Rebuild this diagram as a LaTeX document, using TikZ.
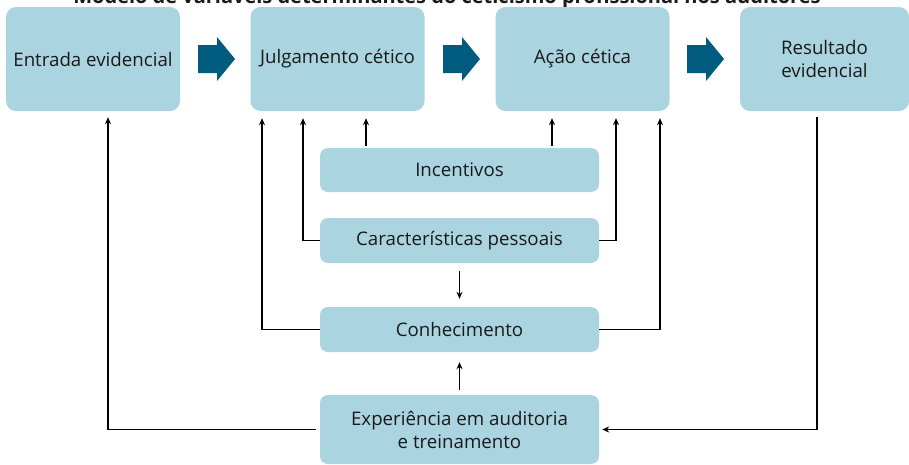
\documentclass[tikz,border=0pt]{standalone}
\usepackage{fontspec}
\setmainfont{Open Sans}
\usetikzlibrary{arrows.meta}
\definecolor{boxblue}{RGB}{171,212,225}
\definecolor{arrblue}{RGB}{0,91,127}
\definecolor{txt}{RGB}{26,26,26}
\begin{document}
\begin{tikzpicture}[x=1pt,y=-1pt,
  box/.style={fill=boxblue, rounded corners=10pt, inner sep=0pt, align=center, text=txt,
    font=\fontsize{18.7}{23}\selectfont},
  topbox/.style={box, minimum width=174pt, minimum height=104pt},
  midbox/.style={box, rounded corners=8pt, minimum width=279pt, minimum height=45pt},
  arr/.style={-{Stealth[length=7pt,width=6pt]}, line width=1.2pt},
  bigarr/.style={fill=arrblue}]
\clip (0,0) rectangle (909,464);
\fill[white] (0,0) rectangle (909,464);
\node[anchor=base, text=txt, font=\bfseries\fontsize{20}{22}\selectfont] (title) at (447,3.5)
  {Modelo de variáveis determinantes do ceticismo profissional nos auditores};
% top row
\node[topbox] (e1) at (93,59) {Entrada evidencial};
\node[topbox] (e2) at (337.5,59) {Julgamento cético};
\node[topbox] (e3) at (582.5,59) {Ação cética};
\node[topbox, minimum width=169pt] (e4) at (824.5,59) {Resultado\\evidencial};
% big arrows
\foreach \s in {0,245,489}{
  \fill[bigarr, xshift=\s pt] (198,45) -- (217,45) -- (217,37) -- (235,59) -- (217,81) -- (217,73) -- (198,73) -- cycle;
}
% middle column
\node[midbox, minimum height=44pt] (inc) at (459.5,170) {Incentivos};
\node[midbox] (car) at (459.5,240.5) {Características pessoais};
\node[midbox] (con) at (459.5,329.5) {Conhecimento};
\node[midbox, minimum height=69pt, text depth=0pt] (exp) at (459.5,429.5) {Experiência em auditoria\\e treinamento};
% x positions
\coordinate (x108) at (108,0);
\coordinate (x262) at (262,0);
\coordinate (x303) at (303,0);
\coordinate (x366) at (366,0);
\coordinate (x552) at (552,0);
\coordinate (x616) at (616,0);
\coordinate (x660) at (660,0);
\coordinate (x817) at (817,0);
% connectors
\draw[arr, shorten <=4pt, shorten >=6pt] (exp.west) -| (e1.south -| x108);
\draw[arr, shorten <=6pt, shorten >=3pt] (e4.south -| x817) |- (exp.east);
\draw[arr, shorten <=2pt, shorten >=7pt] (inc.north -| x366) -- (e2.south -| x366);
\draw[arr, shorten <=2pt, shorten >=7pt] (inc.north -| x552) -- (e3.south -| x552);
\draw[arr, shorten >=7pt] (car.west) -| (e2.south -| x303);
\draw[arr, shorten >=7pt] (car.east) -| (e3.south -| x616);
\draw[arr, shorten >=7pt] (con.west) -| (e2.south -| x262);
\draw[arr, shorten >=7pt] (con.east) -| (e3.south -| x660);
\draw[arr, shorten <=8pt, shorten >=8pt] (car.south) -- (con.north);
\draw[arr, shorten <=5pt, shorten >=10pt] (exp.north) -- (con.south);
\end{tikzpicture}
\end{document}
